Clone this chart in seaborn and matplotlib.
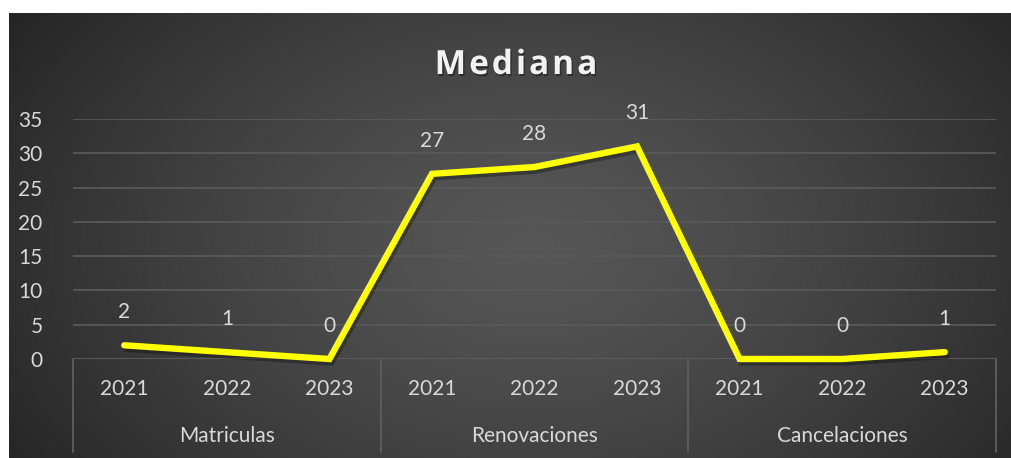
import numpy as np
import pandas as pd
import matplotlib
matplotlib.use("Agg")
import matplotlib.pyplot as plt
import matplotlib.patheffects as pe
import seaborn as sns

# ---- data ----
groups = ["Matriculas", "Renovaciones", "Cancelaciones"]
years = ["2021", "2022", "2023"]
values = [2, 1, 0, 27, 28, 31, 0, 0, 1]
yticks = [0, 5, 10, 15, 20, 25, 30, 35]
title = "Mediana"

sns.set_theme(style="dark")
plt.rcParams['font.family'] = ['Lato', 'DejaVu Sans']

W, H = 1011, 458
fig = plt.figure(figsize=(W / 100, H / 100), dpi=100)
fig.patch.set_facecolor("white")

# background radial gradient panel
bg = fig.add_axes([9 / W, 0, 1 - 9 / W, 1 - 13 / H], zorder=0)
ny, nx = 200, 440
yy, xx = np.mgrid[0:ny, 0:nx]
cx, cy = nx * 0.52, ny * 0.52
r = np.sqrt(((xx - cx) / (nx * 0.62)) ** 2 + ((yy - cy) / (ny * 0.95)) ** 2)
r = np.clip(r, 0, 1)
inner, outer = 0.34, 0.145
img = inner + (outer - inner) * r ** 1.3
bg.imshow(np.dstack([img, img, img]), aspect="auto", extent=[0, 1, 0, 1])
bg.set_axis_off()

# main axes
x0, x1 = 73 / W, 996 / W
y0, y1 = 1 - 359 / H, 1 - 119 / H
ax = fig.add_axes([x0, y0, x1 - x0, y1 - y0], zorder=2)
ax.patch.set_alpha(0)

df = pd.DataFrame({
    "pos": np.arange(len(values)),
    "value": values,
    "group": np.repeat(groups, len(years)),
    "year": years * len(groups),
})

sns.lineplot(data=df, x="pos", y="value", ax=ax, color="#FFFF00", linewidth=4.6,
             solid_capstyle="round", solid_joinstyle="miter", clip_on=False,
             path_effects=[pe.SimpleLineShadow(offset=(1.5, -2.5), shadow_color="black", alpha=0.3),
                           pe.Normal()])

TXT = "#d9d9d9"
FS = 15
ax.set_xlim(-0.5, len(values) - 0.5)
ax.set_ylim(0, 35)
ax.set_yticks(yticks)
ax.set_yticklabels([str(t) for t in yticks], color=TXT, fontsize=FS)
ax.tick_params(axis="y", length=0, pad=22)
ax.set_xticks([])
ax.set_xlabel("")
ax.set_ylabel("")
for s in ax.spines.values():
    s.set_visible(False)
ax.grid(False)
for t in yticks[1:]:
    ax.axhline(t, color="#595959", linewidth=1.3, zorder=0)
ax.axhline(0, color="#5e5e5e", linewidth=1.3, zorder=0)

# data labels
for i, v in enumerate(df["value"]):
    ax.annotate(str(v), (df["pos"][i], v), xytext=(0, 24), textcoords="offset points",
                ha="center", va="center", color=TXT, fontsize=FS, annotation_clip=False)

# category axis
trans = ax.get_xaxis_transform()
ypx = lambda p: (359 - p) / (359 - 119)  # pixel y -> axes fraction
for i, yr in enumerate(df["year"]):
    ax.text(i, ypx(389), yr, transform=trans, ha="center", va="center",
            color=TXT, fontsize=FS)
for g, name in enumerate(groups):
    ax.text(g * 3 + 1, ypx(436), name, transform=trans, ha="center", va="center",
            color=TXT, fontsize=FS)
for b in range(len(groups) + 1):
    ax.plot([b * 3 - 0.5, b * 3 - 0.5], [0, ypx(452)], transform=trans, color="#5e5e5e",
            linewidth=1.3, clip_on=False, zorder=0)

# title with letter spacing
fig.canvas.draw()
renderer = fig.canvas.get_renderer()
tfont = ['Open Sans', 'DejaVu Sans']
fs = 24
spacing = 3.0
widths = []
for ch in title:
    t = fig.text(0, 0, ch, fontsize=fs, fontweight="bold", family=tfont)
    widths.append(t.get_window_extent(renderer).width)
    t.remove()
total = sum(widths) + spacing * (len(title) - 1)
xcur = 516 - total / 2
for ch, w in zip(title, widths):
    fig.text(xcur / W, 1 - 74 / H, ch, fontsize=fs, fontweight="bold", color="#f2f2f2",
             family=tfont, ha="left", va="baseline", zorder=5,
             path_effects=[pe.SimplePatchShadow(offset=(1, -1.5), shadow_rgbFace="black", alpha=0.35),
                           pe.Normal()])
    xcur += w + spacing

fig.savefig("out.png", dpi=100, facecolor="white")
